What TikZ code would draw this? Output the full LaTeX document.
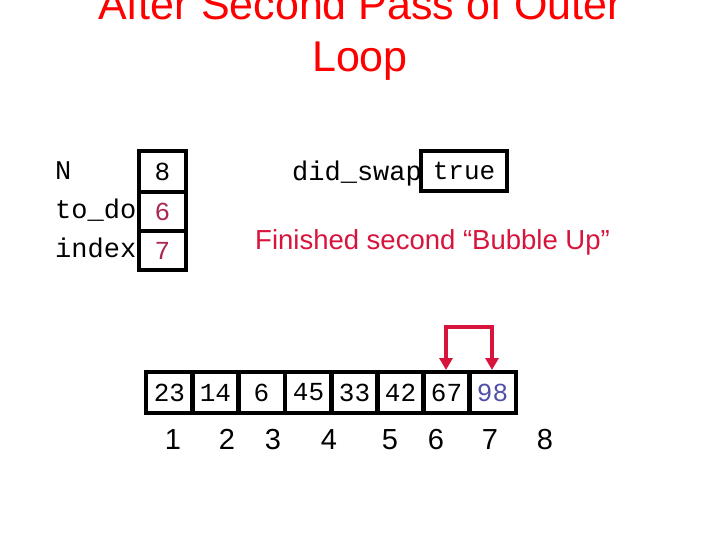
\documentclass[tikz,border=0pt]{standalone}
\usepackage{fontspec}
\setmainfont{Liberation Sans}
\newfontfamily\cour{Liberation Mono}
\usetikzlibrary{arrows.meta}
\definecolor{ttl}{RGB}{255,0,0}
\definecolor{crim}{RGB}{215,20,60}
\definecolor{dred}{RGB}{170,40,80}
\definecolor{slate}{RGB}{80,80,170}
\tikzset{
  cell/.style={draw=black,line width=4pt,minimum width=46pt,minimum height=40pt,inner sep=0pt,font=\cour\fontsize{26}{26}\selectfont,anchor=north west},
  mono/.style={font=\cour\fontsize{27}{27}\selectfont,inner sep=0pt},
  idx/.style={font=\fontsize{29}{29}\selectfont,inner sep=0pt,anchor=base},
  swaparrow/.style={draw=crim,line width=3.5pt,-{Triangle[length=12pt,width=13pt]}}
}
\begin{document}
\begin{tikzpicture}[x=1pt,y=-1pt]
\useasboundingbox (0,0) rectangle (720,540);
\node[font=\fontsize{43}{52}\selectfont,text=ttl,align=center] (title) at (360,34) {After Second Pass of Outer\\Loop};
% variables
\node[mono,anchor=west] (lN) at (55,171) {N};
\node[mono,anchor=west] (lt) at (55,210) {to\_do};
\node[mono,anchor=west] (li) at (55,248) {index};
\node[cell,minimum width=47pt,minimum height=41pt] (vN) at (137,149) {8};
\node[cell,minimum width=47pt,minimum height=39pt,text=dred] (vt) at (137,190) {6};
\node[cell,minimum width=47pt,minimum height=39pt,text=dred] (vi) at (137,229) {7};
\node[mono,anchor=west] (ls) at (292,174) {did\_swap};
\node[cell,minimum width=86pt,minimum height=40pt,anchor=north west] (vs) at (419,149) {true};
\node[font=\fontsize{27.5}{28}\selectfont,text=crim,anchor=west,inner sep=0pt] (msg) at (255,242) {Finished second “Bubble Up”};
% array
\foreach \v/\x/\c [count=\i] in {23/144/black,14/190/black,6/236/black,45/283/black,33/329/black,42/375/black,67/421/black,98/467/slate}{
  \node[cell,text=\c,minimum width=47pt,minimum height=41pt] (a\i) at (\x,370) {\v\ifnum\i=3\ \fi};
}
\foreach \n/\x in {1/173,2/227,3/273,4/329,5/390,6/436,7/490,8/545}{
  \node[idx] (n\n) at (\x,449) {\n};
}
\coordinate (t7) at (446,327);
\coordinate (t8) at (492,327);
\draw[swaparrow] (t7) -- (t8) -- (a8.north -| t8);
\draw[swaparrow] (t8) -- (t7) -- (a7.north -| t7);
\end{tikzpicture}
\end{document}
